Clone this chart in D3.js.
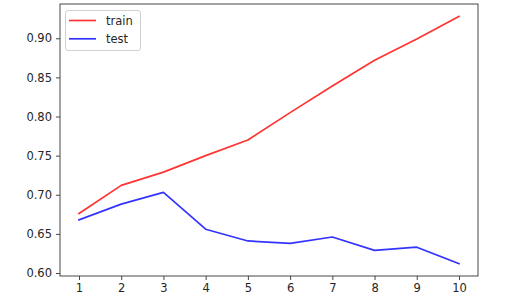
<!DOCTYPE html>
<html><head><meta charset="utf-8">
<script src="https://cdn.jsdelivr.net/npm/d3@7"></script>
<style>
html,body{margin:0;padding:0;background:#fff;}
svg{display:block;font-family:"DejaVu Sans",sans-serif;}
</style></head>
<body>
<svg id="c" width="512" height="303"></svg>
<script>
const epochs = [1,2,3,4,5,6,7,8,9,10];
const trainVals = [0.676,0.712,0.729,0.750,0.770,0.805,0.839,0.872,0.899,0.928];
const testVals = [0.668,0.688,0.703,0.656,0.641,0.638,0.646,0.629,0.633,0.612];
const yTicks = [0.60,0.65,0.70,0.75,0.80,0.85,0.90];
const seriesNames = ["train","test"];
const seriesColors = ["#ff0000","#0000ff"];

const svg = d3.select("#c");
const L=60, R=478, T=4, B=276;
const all = trainVals.concat(testVals);
const ymin = d3.min(all), ymax = d3.max(all), m = (ymax-ymin)*0.05;
const x = d3.scaleLinear().domain([0.55,10.45]).range([L,R]);
const y = d3.scaleLinear().domain([ymin-m, ymax+m]).range([B,T]);

const xa = svg.append("g").attr("transform",`translate(0,${B})`)
  .call(d3.axisBottom(x).tickValues(epochs).tickFormat(d3.format("d")).tickSizeOuter(0).tickSize(4).tickPadding(4));
const ya = svg.append("g").attr("transform",`translate(${L},0)`)
  .call(d3.axisLeft(y).tickValues(yTicks).tickFormat(d3.format(".2f")).tickSizeOuter(0).tickSize(4).tickPadding(4));
[xa,ya].forEach(a=>{
  a.select(".domain").remove();
  a.selectAll("line").attr("stroke","#333").attr("stroke-width",0.9);
  a.selectAll("text").attr("font-size","11.5px").attr("fill","#262626").attr("font-family","DejaVu Sans");
});

const line = d3.line().x((d,i)=>x(epochs[i])).y(d=>y(d));
[trainVals,testVals].forEach((vals,k)=>{
  svg.append("path").datum(vals).attr("d",line).attr("fill","none")
    .attr("stroke",seriesColors[k]).attr("stroke-opacity",0.8).attr("stroke-width",1.7)
    .attr("stroke-linejoin","round").attr("stroke-linecap","square");
});

svg.append("rect").attr("x",L).attr("y",T).attr("width",R-L).attr("height",B-T)
  .attr("fill","none").attr("stroke","#333").attr("stroke-width",0.9);

const lg = svg.append("g");
lg.append("rect").attr("x",65.5).attr("y",10.5).attr("width",75).attr("height",40).attr("rx",2.5)
  .attr("fill","#fff").attr("fill-opacity",0.8).attr("stroke","#d0d0d0").attr("stroke-width",1);
seriesNames.forEach((n,k)=>{
  const yy = 20.5 + k*18.3;
  lg.append("line").attr("x1",69).attr("x2",96).attr("y1",yy).attr("y2",yy)
    .attr("stroke",seriesColors[k]).attr("stroke-opacity",0.8).attr("stroke-width",1.7);
  lg.append("text").attr("x",106).attr("y",yy).attr("dy","0.36em").attr("font-size","11.5px")
    .attr("fill","#262626").text(n);
});
</script>
</body></html>
